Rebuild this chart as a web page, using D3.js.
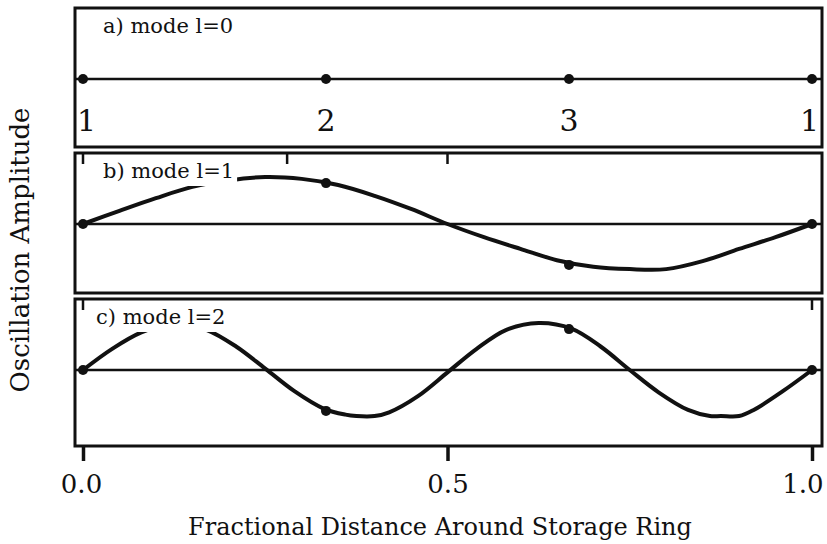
<!DOCTYPE html>
<html>
<head>
<meta charset="utf-8">
<script src="https://cdn.jsdelivr.net/npm/d3@7"></script>
<style>
  body { margin: 0; background: #fff; }
  text { font-family: "DejaVu Serif", serif; fill: #111; }
</style>
</head>
<body>
<div id="chart"></div>
<script>
// data
var stationPos = [0, 1 / 3, 2 / 3, 1];
var stationLabels = ["1", "2", "3", "1"];
var modeLabels = ["a) mode l=0", "b) mode l=1", "c) mode l=2"];
var xTickValues = [0, 0.5, 1];
var xTickLabels = ["0.0", "0.5", "1.0"];

var dotsMode0 = [0, 0, 0, 0];
var dotsMode1 = [0, 0.87, -0.87, 0];
var dotsMode2 = [0, -0.87, 0.87, 0];

var distB = [0, 0.05, 0.1, 0.15, 0.2, 0.25, 0.3, 0.35, 0.4, 0.45, 0.5, 0.55, 0.6, 0.65, 0.7, 0.75, 0.8, 0.85, 0.9, 0.95, 1];
var ampMode1 = [0, 0.28, 0.55, 0.79, 0.93, 1.0, 0.96, 0.83, 0.6, 0.32, 0, -0.28, -0.53, -0.77, -0.91, -0.96, -0.96, -0.79, -0.53, -0.28, 0];

var distC = [0, 0.04, 0.08, 0.125, 0.17, 0.21, 0.25, 0.29, 0.33, 0.36, 0.375, 0.4, 0.42, 0.46, 0.5, 0.54, 0.58, 0.625, 0.67, 0.71, 0.75, 0.79, 0.83, 0.86, 0.875, 0.9, 0.92, 0.96, 1];
var ampMode2 = [0, 0.45, 0.8, 1.0, 0.85, 0.5, 0.03, -0.45, -0.82, -0.95, -0.98, -0.98, -0.9, -0.55, -0.05, 0.45, 0.85, 1.0, 0.88, 0.5, 0, -0.48, -0.85, -0.98, -0.98, -0.98, -0.85, -0.45, 0];

var topTicksB = [0, 0.28, 0.5];
var topTicksC = [0, 1];

var svgWidth = 827;
var svgHeight = 544;

var frame = { left: 75, right: 822 };
var panelTops = [8, 153, 299];
var panelHeights = [139, 140, 147];
var centreOffset = 71;   // zero line below panel top
var unitPx = 47;         // pixels per unit amplitude

var svg = d3.select("#chart")
  .append("svg")
  .attr("width", svgWidth)
  .attr("height", svgHeight);

var xScale = d3.scaleLinear()
  .domain([0, 1])
  .range([83, 812]);

var line = d3.line()
  .x(d => xScale(d[0]))
  .y(d => d[1])
  .curve(d3.curveCatmullRom);

var panels = [
  { dots: dotsMode0, dist: null, amp: null, topTicks: [] },
  { dots: dotsMode1, dist: distB, amp: ampMode1, topTicks: topTicksB },
  { dots: dotsMode2, dist: distC, amp: ampMode2, topTicks: topTicksC }
];

panels.forEach(function (p, i) {
  var top = panelTops[i];
  var centre = top + centreOffset;
  var yScale = d3.scaleLinear()
    .domain([-1, 1])
    .range([centre + unitPx, centre - unitPx]);

  var g = svg.append("g");

  // frame
  g.append("rect")
    .attr("x", frame.left)
    .attr("y", top)
    .attr("width", frame.right - frame.left)
    .attr("height", panelHeights[i])
    .attr("fill", "none")
    .attr("stroke", "#111")
    .attr("stroke-width", 3);

  // zero line
  g.append("line")
    .attr("x1", frame.left)
    .attr("x2", frame.right)
    .attr("y1", yScale(0))
    .attr("y2", yScale(0))
    .attr("stroke", "#111")
    .attr("stroke-width", 2.6);

  if (p.dist) {
    g.append("path")
      .datum(p.dist.map((d, k) => [d, yScale(p.amp[k])]))
      .attr("d", line)
      .attr("fill", "none")
      .attr("stroke", "#111")
      .attr("stroke-width", 4)
      .attr("stroke-linejoin", "round");
  }

  g.selectAll("circle")
    .data(stationPos)
    .enter()
    .append("circle")
    .attr("cx", d => xScale(d))
    .attr("cy", (d, k) => yScale(p.dots[k]))
    .attr("r", 5)
    .attr("fill", "#111");

  // small tick marks on the top edge
  g.selectAll(".toptick")
    .data(p.topTicks)
    .enter()
    .append("line")
    .attr("x1", d => xScale(d))
    .attr("x2", d => xScale(d))
    .attr("y1", top)
    .attr("y2", top + 11)
    .attr("stroke", "#111")
    .attr("stroke-width", 2.5);

  // mode label with white backing
  var label = g.append("text")
    .attr("x", i == 2 ? 96 : 103)
    .attr("y", top + 25)
    .style("font-size", "21px")
    .text(modeLabels[i]);
  var bb = label.node().getBBox();
  g.insert("rect", "text")
    .attr("x", bb.x - 3)
    .attr("y", bb.y - 2)
    .attr("width", bb.width + 6)
    .attr("height", bb.height + 5)
    .attr("fill", "#fff");

  if (i == 0) {
    g.selectAll(".station")
      .data(stationPos)
      .enter()
      .append("text")
      .attr("x", (d, k) => k == 0 ? frame.left + 2 : k == 3 ? frame.right - 3 : xScale(d))
      .attr("y", top + 123)
      .style("font-size", "30px")
      .style("text-anchor", (d, k) => k == 0 ? "start" : k == 3 ? "end" : "middle")
      .text((d, k) => stationLabels[k]);
  }
});

// bottom axis
var bottomY = panelTops[2] + panelHeights[2];
var bottomAxis = d3.axisBottom(xScale)
  .tickValues(xTickValues)
  .tickSize(15)
  .tickPadding(14)
  .tickFormat((d, k) => xTickLabels[k]);

var axisG = svg.append("g")
  .attr("transform", `translate(0, ${bottomY})`)
  .call(bottomAxis);

axisG.select(".domain").remove();
axisG.selectAll("line")
  .attr("stroke", "#111")
  .attr("stroke-width", 3.5);
axisG.selectAll("text")
  .style("font-family", "DejaVu Serif, serif")
  .style("font-size", "26px")
  .attr("fill", "#111");
axisG.selectAll("text")
  .filter((d, k) => k == xTickValues.length - 1)
  .style("text-anchor", "end")
  .attr("x", 11);
axisG.selectAll("text")
  .filter((d, k) => k == 0)
  .attr("x", -2);

svg.append("text")
  .attr("x", 440)
  .attr("y", 535)
  .style("font-size", "24px")
  .style("text-anchor", "middle")
  .text("Fractional Distance Around Storage Ring");

svg.append("text")
  .attr("transform", "rotate(-90)")
  .attr("x", -250)
  .attr("y", 29)
  .style("font-size", "26px")
  .style("text-anchor", "middle")
  .text("Oscillation Amplitude");
</script>
</body>
</html>
